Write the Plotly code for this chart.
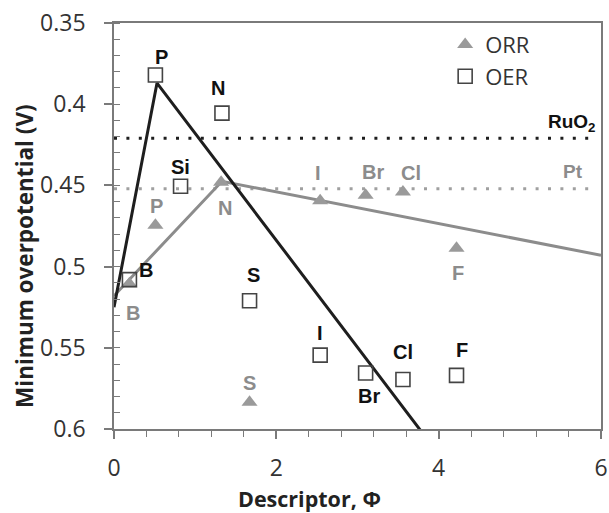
import plotly.graph_objects as go

# ---------------- data ----------------
oer_labels = ["P", "N", "Si", "B", "S", "I", "Br", "Cl", "F"]
oer_x = [0.51, 1.33, 0.82, 0.19, 1.67, 2.54, 3.10, 3.56, 4.22]
oer_y = [0.382, 0.4055, 0.4505, 0.508, 0.521, 0.5545, 0.5655, 0.5695, 0.567]

orr_labels = ["P", "N", "B", "S", "I", "Br", "Cl", "F"]
orr_x = [0.51, 1.32, 0.19, 1.67, 2.54, 3.10, 3.56, 4.22]
orr_y = [0.4745, 0.448, 0.5105, 0.5836, 0.4595, 0.456, 0.454, 0.4887]

oer_volcano_x = [0.0, 0.53, 3.80]
oer_volcano_y = [0.525, 0.387, 0.6024]
orr_volcano_x = [0.0, 1.33, 6.0]
orr_volcano_y = [0.518, 0.4475, 0.493]

ruo2_y = 0.421
pt_y = 0.452
ref_line_x = [0.0, 5.9]

x_ticks = [0, 2, 4, 6]
y_ticks = [0.35, 0.4, 0.45, 0.5, 0.55, 0.6]
y_tick_text = ["0.35", "0.4", "0.45", "0.5", "0.55", "0.6"]

x_title = "Descriptor, \u03a6"
y_title = "Minimum overpotential (V)"

# ---------------- styles ----------------
BLACK = "#1e1e1e"
GRAY = "#8c8c8c"
TRI = "#9a9a9a"
AXIS = "#7a7a7a"
TICKFONT = dict(family="Open Sans", size=23, color="#333333")
TITLEFONT = dict(family="Open Sans", size=21.5, color="#222222")
LABEL_FAMILY = "Liberation Sans"

# label offsets (pixels) for each point label
oer_offsets = [(6, -18), (-4, -25), (0, -19), (17, -10), (4, -26), (0, -22), (3, 23), (0, -27), (5, -25)]
orr_offsets = [(1, -19), (4, 26), (4, 29), (0, -19), (-2, -28), (7, -23), (8, -19), (1, 25)]

fig = go.Figure()

# reference dotted lines
fig.add_trace(go.Scatter(x=ref_line_x, y=[ruo2_y, ruo2_y], mode="lines",
                         line=dict(color=BLACK, width=3, dash="3px,9.4px"),
                         showlegend=False, hoverinfo="skip"))
fig.add_trace(go.Scatter(x=ref_line_x, y=[pt_y, pt_y], mode="lines",
                         line=dict(color="#a0a0a0", width=3, dash="3px,9.4px"),
                         showlegend=False, hoverinfo="skip"))

# volcano lines
fig.add_trace(go.Scatter(x=orr_volcano_x, y=orr_volcano_y, mode="lines",
                         line=dict(color=GRAY, width=3),
                         showlegend=False, hoverinfo="skip"))
fig.add_trace(go.Scatter(x=oer_volcano_x, y=oer_volcano_y, mode="lines",
                         line=dict(color=BLACK, width=3),
                         showlegend=False, hoverinfo="skip"))

# markers
fig.add_trace(go.Scatter(x=orr_x, y=orr_y, mode="markers", name="ORR",
                         marker=dict(symbol="triangle-up", size=14, color=TRI,
                                     line=dict(width=0))))
fig.add_trace(go.Scatter(x=oer_x, y=oer_y, mode="markers", name="OER",
                         marker=dict(symbol="square-open", size=14, color="#444444",
                                     line=dict(width=1.6))))

annotations = []
for lab, x, y, (dx, dy) in zip(oer_labels, oer_x, oer_y, oer_offsets):
    annotations.append(dict(x=x, y=y, text="<b>%s</b>" % lab, showarrow=False,
                            xshift=dx, yshift=-dy,
                            font=dict(family=LABEL_FAMILY, size=20, color="#111111")))
for lab, x, y, (dx, dy) in zip(orr_labels, orr_x, orr_y, orr_offsets):
    annotations.append(dict(x=x, y=y, text="<b>%s</b>" % lab, showarrow=False,
                            xshift=dx, yshift=-dy,
                            font=dict(family=LABEL_FAMILY, size=20, color=GRAY)))
annotations.append(dict(x=6, y=ruo2_y, text="<b>RuO<sub>2</sub></b>", showarrow=False,
                        xanchor="right", xshift=-3, yshift=15,
                        font=dict(family=LABEL_FAMILY, size=19, color="#111111")))
annotations.append(dict(x=5.66, y=pt_y, text="<b>Pt</b>", showarrow=False,
                        yshift=17,
                        font=dict(family=LABEL_FAMILY, size=19, color=GRAY)))
# axis titles (placed as in the reference, off-centre)
annotations.append(dict(xref="paper", yref="paper", x=0.402, y=-0.172,
                        text="<b>%s</b>" % x_title, showarrow=False,
                        xanchor="center", yanchor="middle", font=TITLEFONT))
annotations.append(dict(xref="paper", yref="paper", x=-0.185, y=0.426,
                        text="<b>%s</b>" % y_title, showarrow=False, textangle=-90,
                        xanchor="center", yanchor="middle",
                        font=dict(family="Open Sans", size=22.5, color="#222222")))

axis_common = dict(showgrid=False, zeroline=False, showline=True, linecolor=AXIS,
                   linewidth=1.6, mirror=True, tickcolor=AXIS, tickwidth=1.6,
                   ticks="outside", ticklen=8, tickfont=TICKFONT)

fig.update_layout(
    width=609, height=513,
    margin=dict(l=114, r=8, t=23, b=84),
    paper_bgcolor="white", plot_bgcolor="white",
    xaxis=dict(range=[0, 6], tickvals=x_ticks, ticklabelstandoff=10,
               minor=dict(dtick=0.4, tick0=0, ticks="outside", ticklen=6,
                          tickcolor=AXIS, tickwidth=1.4),
               automargin=False, **axis_common),
    yaxis=dict(range=[0.6, 0.35], tickvals=y_ticks, ticktext=y_tick_text,
               ticklabelstandoff=14,
               minor=dict(dtick=0.01, tick0=0.35, ticks="inside", ticklen=6,
                          tickcolor=AXIS, tickwidth=1.4),
               automargin=False, **axis_common),
    xaxis2=dict(overlaying="x", matches="x", anchor="y", side="bottom",
                showgrid=False, zeroline=False, showline=False, ticks="inside",
                ticklen=8, tickcolor=AXIS, tickwidth=1.6, tickvals=x_ticks,
                showticklabels=False),
    yaxis2=dict(overlaying="y", matches="y", anchor="x", side="left",
                showgrid=False, zeroline=False, showline=False, ticks="inside",
                ticklen=8, tickcolor=AXIS, tickwidth=1.6, tickvals=y_ticks,
                showticklabels=False),
    legend=dict(x=0.68, y=0.998, xanchor="left", yanchor="top",
                bgcolor="rgba(0,0,0,0)", borderwidth=0, tracegroupgap=0,
                font=dict(family="Open Sans", size=22, color="#333333"),
                itemwidth=30),
    annotations=annotations,
)

fig.write_html("out.html")
